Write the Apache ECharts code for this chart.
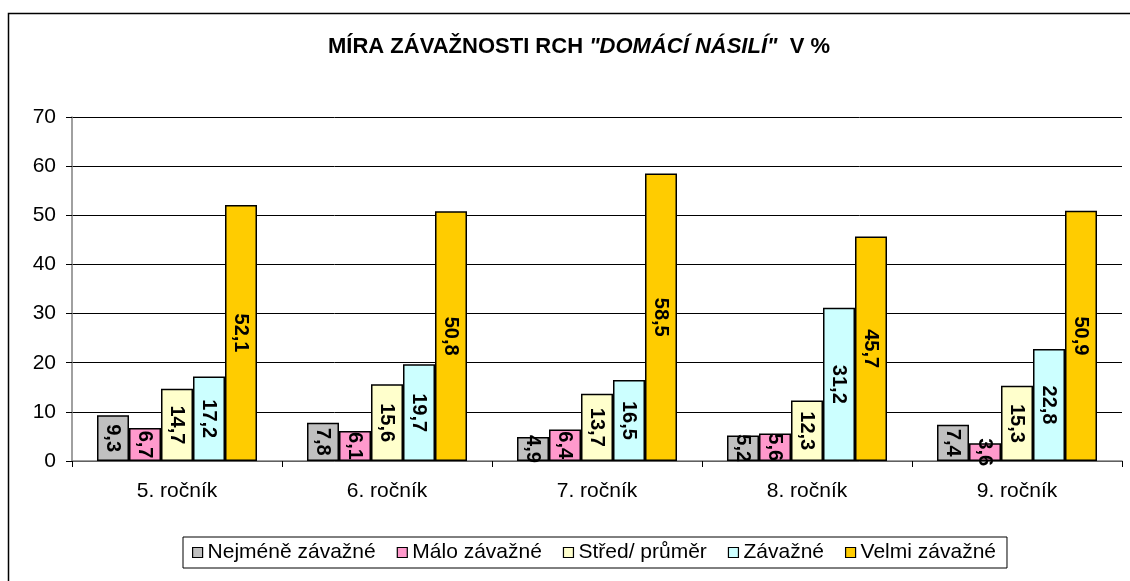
<!DOCTYPE html>
<html>
<head>
<meta charset="utf-8">
<script src="https://cdn.jsdelivr.net/npm/echarts@6/dist/echarts.min.js"></script>
<style>
html,body{margin:0;padding:0;background:#fff;}
#chart{width:1130px;height:581px;}
</style>
</head>
<body>
<div id="chart"></div>
<script>
var categories = ['5. ročník', '6. ročník', '7. ročník', '8. ročník', '9. ročník'];
var seriesNames = ['Nejméně závažné', 'Málo závažné', 'Střed/ průměr', 'Závažné', 'Velmi závažné'];
var nejmeneZavazne = [9.3, 7.8, 4.9, 5.2, 7.4];
var maloZavazne = [6.7, 6.1, 6.4, 5.6, 3.6];
var stredPrumer = [14.7, 15.6, 13.7, 12.3, 15.3];
var zavazne = [17.2, 19.7, 16.5, 31.2, 22.8];
var velmiZavazne = [52.1, 50.8, 58.5, 45.7, 50.9];
var yTicks = [0, 10, 20, 30, 40, 50, 60, 70];
var colors = ['#C0C0C0', '#FF99CC', '#FFFFCC', '#CCFFFF', '#FFCC00'];

var allValues = [nejmeneZavazne, maloZavazne, stredPrumer, zavazne, velmiZavazne];
var FONT = '"Liberation Sans", Arial, sans-serif';

var chart = echarts.init(document.getElementById('chart'), null, {renderer: 'canvas'});

var series = allValues.map(function (vals, i) {
  return {
    name: seriesNames[i],
    type: 'bar',
    data: vals,
    barWidth: 32,
    barGap: '0%',
    itemStyle: {color: colors[i], borderColor: '#000', borderWidth: 1.5},
    label: {
      show: true,
      position: 'inside',
      rotate: -90,
      fontFamily: FONT,
      fontWeight: 'bold',
      fontSize: 20,
      color: '#000',
      formatter: function (p) { return String(p.value).replace('.', ','); }
    }
  };
});

chart.setOption({
  animation: false,
  backgroundColor: '#fff',
  textStyle: {fontFamily: FONT},
  graphic: [{
    type: 'rect',
    shape: {x: 8.5, y: 13.5, width: 1200, height: 700},
    style: {fill: 'none', stroke: '#000', lineWidth: 1.5},
    silent: true,
    z: -10
  }],
  title: {
    text: '{a|MÍRA ZÁVAŽNOSTI RCH }{b|"DOMÁCÍ NÁSILÍ"}{a|  V %}',
    left: 574,
    textAlign: 'center',
    top: 31,
    textStyle: {
      rich: {
        a: {fontFamily: FONT, fontWeight: 'bold', fontSize: 22, color: '#000'},
        b: {fontFamily: FONT, fontWeight: 'bold', fontStyle: 'italic', fontSize: 22, color: '#000'}
      }
    }
  },
  legend: {
    data: seriesNames,
    left: 183,
    top: 537,
    padding: [5, 11, 5, 9],
    itemGap: 21,
    itemWidth: 10,
    itemHeight: 10,
    icon: 'rect',
    borderColor: '#000',
    borderWidth: 1,
    itemStyle: {borderColor: '#000', borderWidth: 1.2},
    textStyle: {fontFamily: FONT, fontSize: 21, color: '#000'}
  },
  grid: {left: 72, right: 8, top: 117, bottom: 120, containLabel: false},
  xAxis: {
    type: 'category',
    data: categories,
    axisLine: {lineStyle: {color: '#808080', width: 1.5}},
    axisTick: {show: true, inside: false, length: 6, lineStyle: {color: '#000'}},
    axisLabel: {fontFamily: FONT, fontSize: 21, color: '#000', margin: 20},
    splitLine: {show: false}
  },
  yAxis: {
    type: 'value',
    min: 0,
    max: 70,
    interval: 10,
    axisLine: {show: true, lineStyle: {color: '#808080', width: 1.5}},
    axisTick: {show: true, length: 6, lineStyle: {color: '#000'}},
    axisLabel: {fontFamily: FONT, fontSize: 21, color: '#000', margin: 16,
      formatter: function (v) { return yTicks.indexOf(v) >= 0 ? String(v) : ''; }},
    splitLine: {show: true, lineStyle: {color: '#000', width: 1}}
  },
  series: series
});
</script>
</body>
</html>
